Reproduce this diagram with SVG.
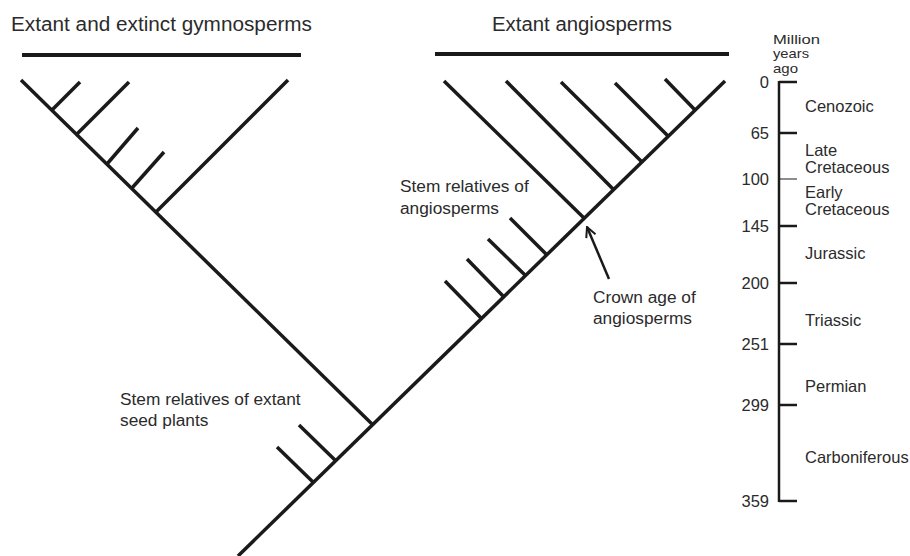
<svg xmlns="http://www.w3.org/2000/svg" width="910" height="556" viewBox="0 0 910 556">
<style>
.br{stroke:#1a1a1a;stroke-width:3.5;fill:none;stroke-linecap:butt}
.bar{stroke:#1a1a1a;stroke-width:4}
.ax{stroke:#1a1a1a;stroke-width:2.5;fill:none}
.thin{stroke:#1a1a1a;stroke-width:1}
text{font-family:"Liberation Sans",Arial,sans-serif;fill:#2b2b2b}
.t{font-size:20px}
.l{font-size:17.3px}
.s{font-size:16.5px}
.m{font-size:13px}
.n{font-size:16.5px;text-anchor:end}
</style>
<defs>
<marker id="ah" viewBox="0 0 12 12" refX="11" refY="6" markerWidth="12" markerHeight="12" markerUnits="userSpaceOnUse" orient="auto">
<path d="M1,1 L11,6 L1,11" fill="none" stroke="#1a1a1a" stroke-width="2"/>
</marker>
</defs>
<rect width="910" height="556" fill="#ffffff"/>

<g id="title-gymno">
<text class="t" x="11" y="31" textLength="301" lengthAdjust="spacingAndGlyphs">Extant and extinct gymnosperms</text>
<line class="bar" x1="22" y1="55" x2="301" y2="55"/>
</g>
<g id="title-angio">
<text class="t" x="492" y="31" textLength="180" lengthAdjust="spacingAndGlyphs">Extant angiosperms</text>
<line class="bar" x1="435" y1="54" x2="729" y2="54"/>
</g>

<g id="connectors">
<!-- main stem -->
<line class="br" x1="238" y1="556" x2="725" y2="81"/>
<!-- gymnosperm lineage -->
<line class="br" x1="373" y1="425" x2="21" y2="80"/>
<line class="br" x1="52" y1="110" x2="80" y2="82"/>
<line class="br" x1="77" y1="134" x2="129" y2="82"/>
<line class="br" x1="107" y1="164" x2="138" y2="128"/>
<line class="br" x1="132" y1="188" x2="164" y2="152"/>
<line class="br" x1="156" y1="212" x2="288" y2="80"/>
<!-- stem relatives of extant seed plants -->
<line class="br" x1="314" y1="483" x2="277" y2="447"/>
<line class="br" x1="336" y1="461" x2="299" y2="425"/>
<!-- stem relatives of angiosperms -->
<line class="br" x1="481" y1="318" x2="445" y2="281"/>
<line class="br" x1="503" y1="296" x2="467" y2="259"/>
<line class="br" x1="525" y1="275" x2="488" y2="239"/>
<line class="br" x1="546" y1="254" x2="510" y2="218"/>
<!-- crown angiosperms -->
<line class="br" x1="585" y1="219" x2="444" y2="81"/>
<line class="br" x1="614" y1="190" x2="506" y2="81"/>
<line class="br" x1="642" y1="162" x2="561" y2="82"/>
<line class="br" x1="668" y1="136" x2="615" y2="83"/>
<line class="br" x1="695" y1="110" x2="665" y2="79"/>
<!-- crown age arrow -->
<line x1="609" y1="279" x2="587" y2="227" stroke="#1a1a1a" stroke-width="2.5" marker-end="url(#ah)"/>
</g>

<g id="label-stem-angio">
<text class="l" x="400" y="192">Stem relatives of</text>
<text class="l" x="400" y="214">angiosperms</text>
</g>
<g id="label-crown">
<text class="l" x="593" y="303">Crown age of</text>
<text class="l" x="593" y="324">angiosperms</text>
</g>
<g id="label-stem-seed">
<text class="l" x="120" y="405">Stem relatives of extant</text>
<text class="l" x="120" y="426">seed plants</text>
</g>

<g id="timescale">
<text class="m" x="773" y="44" textLength="47" lengthAdjust="spacingAndGlyphs">Million</text>
<text class="m" x="773" y="58" textLength="36" lengthAdjust="spacingAndGlyphs">years</text>
<text class="m" x="773" y="73" textLength="25" lengthAdjust="spacingAndGlyphs">ago</text>
<line class="ax" x1="779" y1="81" x2="779" y2="502"/>
<line class="ax" x1="779" y1="82" x2="797" y2="82"/>
<line class="ax" x1="779" y1="133" x2="797" y2="133"/>
<line class="thin" x1="779" y1="179" x2="797" y2="179"/>
<line class="ax" x1="779" y1="226" x2="797" y2="226"/>
<line class="ax" x1="779" y1="283" x2="797" y2="283"/>
<line class="ax" x1="779" y1="344" x2="797" y2="344"/>
<line class="ax" x1="779" y1="405" x2="797" y2="405"/>
<line class="ax" x1="779" y1="501" x2="797" y2="501"/>
<text class="n" x="769" y="88">0</text>
<text class="n" x="769" y="139">65</text>
<text class="n" x="769" y="185">100</text>
<text class="n" x="769" y="232">145</text>
<text class="n" x="769" y="289">200</text>
<text class="n" x="769" y="350">251</text>
<text class="n" x="769" y="411">299</text>
<text class="n" x="769" y="507">359</text>
<text class="s" x="805" y="112">Cenozoic</text>
<text class="s" x="805" y="156">Late</text>
<text class="s" x="805" y="173">Cretaceous</text>
<text class="s" x="805" y="198">Early</text>
<text class="s" x="805" y="215">Cretaceous</text>
<text class="s" x="805" y="259">Jurassic</text>
<text class="s" x="805" y="326">Triassic</text>
<text class="s" x="805" y="392">Permian</text>
<text class="s" x="805" y="463">Carboniferous</text>
</g>
</svg>
